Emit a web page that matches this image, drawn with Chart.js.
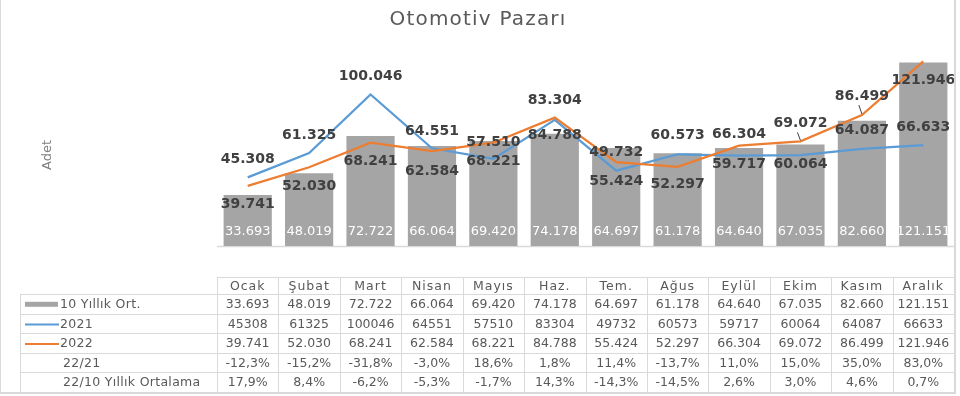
<!DOCTYPE html>
<html>
<head>
<meta charset="utf-8">
<script src="https://cdn.jsdelivr.net/npm/chart.js@4"></script>
<style>
  body { margin: 0; background: #fff; }
  canvas { display: block; }
</style>
</head>
<body>
<canvas id="c" width="960" height="396"></canvas>
<script>
// --- VERİ ---
const months = ['Ocak', 'Şubat', 'Mart', 'Nisan', 'Mayıs', 'Haz.', 'Tem.', 'Ağus', 'Eylül', 'Ekim', 'Kasım', 'Aralık'];
const avg10 = [33693, 48019, 72722, 66064, 69420, 74178, 64697, 61178, 64640, 67035, 82660, 121151];
const y2021 = [45308, 61325, 100046, 64551, 57510, 83304, 49732, 60573, 59717, 60064, 64087, 66633];
const y2022 = [39741, 52030, 68241, 62584, 68221, 84788, 55424, 52297, 66304, 69072, 86499, 121946];
const chg2221 = [-12.3, -15.2, -31.8, -3.0, 18.6, 1.8, 11.4, -13.7, 11.0, 15.0, 35.0, 83.0];
const chg22avg = [17.9, 8.4, -6.2, -5.3, -1.7, 14.3, -14.3, -14.5, 2.6, 3.0, 4.6, 0.7];
const yMax = 140000;

// etiket yeri: eksi = noktanın üstünde, artı = altında (px)
const lbl2021 = [-18, -18, -18, -17, -17, -19, -18, -19, 9, 9, -19, -18];
const lbl2022 = [19, 19, 19, 20, 19, 18, 19, 18, -11, -18, -19, 19];
const leader2022 = [0, 0, 0, 0, 0, 0, 0, 0, 0, 1, 1, 0];

const BLUE = '#5b9bd5', ORANGE = '#ed7d31', GRAY = '#a5a5a5';
const TXT = '#595959', GRID = '#d9d9d9';
const FONT = '"DejaVu Sans", sans-serif';

const fmtDot = n => String(n).replace(/\B(?=(\d{3})+(?!\d))/g, '.');
const fmtPct = v => v.toFixed(1).replace('.', ',') + '%';

// --- ÇİZİM EKLENTİSİ ---
const drawExtras = {
  id: 'drawExtras',
  beforeDatasetsDraw(chart) {
    const { ctx, chartArea: ca } = chart;
    ctx.save();
    ctx.strokeStyle = GRID;
    ctx.lineWidth = 1.5;
    ctx.beginPath();
    ctx.moveTo(ca.left, ca.bottom + 0.5);
    ctx.lineTo(ca.right, ca.bottom + 0.5);
    ctx.stroke();
    ctx.restore();
  },
  afterDatasetsDraw(chart) {
    const { ctx, chartArea: ca } = chart;
    ctx.save();
    ctx.textAlign = 'center';
    ctx.textBaseline = 'middle';

    // bar etiketleri (beyaz, altta)
    ctx.fillStyle = '#ffffff';
    ctx.font = '13px ' + FONT;
    chart.getDatasetMeta(0).data.forEach((b, i) => {
      ctx.fillText(fmtDot(avg10[i]), b.x, ca.bottom - 14);
    });

    // çizgi etiketleri
    ctx.font = 'bold 14px ' + FONT;
    ctx.fillStyle = '#404040';
    const m21 = chart.getDatasetMeta(1).data;
    const m22 = chart.getDatasetMeta(2).data;
    m21.forEach((p, i) => ctx.fillText(fmtDot(y2021[i]), p.x, p.y + lbl2021[i]));
    m22.forEach((p, i) => {
      const ly = p.y + lbl2022[i];
      ctx.fillText(fmtDot(y2022[i]), p.x, ly);
      if (leader2022[i]) {
        ctx.strokeStyle = '#404040';
        ctx.lineWidth = 1;
        ctx.beginPath();
        ctx.moveTo(p.x - 3, ly + 9);
        ctx.lineTo(p.x, p.y - 1);
        ctx.stroke();
      }
    });
    ctx.restore();
  },
  afterDraw(chart) {
    const { ctx, chartArea: ca } = chart;
    ctx.save();

    // başlık
    ctx.fillStyle = TXT;
    ctx.font = '20px ' + FONT;
    ctx.textAlign = 'center';
    ctx.textBaseline = 'middle';
    ctx.letterSpacing = '1.2px';
    ctx.fillText('Otomotiv Pazarı', 478, 20);
    ctx.letterSpacing = '0px';

    // eksen başlığı
    ctx.save();
    ctx.translate(48, 155);
    ctx.rotate(-Math.PI / 2);
    ctx.fillStyle = '#808080';
    ctx.font = '13px ' + FONT;
    ctx.fillText('Adet', 0, 0);
    ctx.restore();

    // veri tablosu
    const colW = (ca.right - ca.left) / months.length;
    const tLeft = 20, tTop = 277, hdrH = 17, rowH = 19.6;
    const rows = [
      { name: '10 Yıllık Ort.', key: 'bar', vals: avg10.map(fmtDot) },
      { name: '2021', key: BLUE, vals: y2021.map(String) },
      { name: '2022', key: ORANGE, vals: y2022.map(fmtDot) },
      { name: '22/21', vals: chg2221.map(fmtPct) },
      { name: '22/10 Yıllık Ortalama', vals: chg22avg.map(fmtPct) }
    ];
    const dTop = tTop + hdrH;
    const tBottom = dTop + rows.length * rowH;

    ctx.strokeStyle = GRID;
    ctx.lineWidth = 1;
    ctx.beginPath();
    ctx.moveTo(ca.left, tTop + 0.5); ctx.lineTo(ca.right, tTop + 0.5);
    for (let r = 0; r <= rows.length; r++) {
      const y = Math.round(dTop + r * rowH) + 0.5;
      ctx.moveTo(tLeft, y); ctx.lineTo(ca.right, y);
    }
    ctx.moveTo(tLeft + 0.5, dTop); ctx.lineTo(tLeft + 0.5, tBottom);
    for (let j = 0; j <= months.length; j++) {
      const x = Math.round(ca.left + j * colW) + 0.5;
      ctx.moveTo(x, tTop); ctx.lineTo(x, tBottom);
    }
    ctx.stroke();

    ctx.fillStyle = TXT;
    ctx.font = '12.5px ' + FONT;
    ctx.textAlign = 'center';
    ctx.letterSpacing = '1px';
    months.forEach((m, j) => ctx.fillText(m, ca.left + (j + 0.5) * colW, tTop + hdrH / 2 + 1));
    ctx.letterSpacing = '0px';

    rows.forEach((row, r) => {
      const cy = dTop + (r + 0.5) * rowH + 1;
      row.vals.forEach((v, j) => {
        ctx.fillStyle = TXT;
        ctx.textAlign = 'center';
        ctx.fillText(v, ca.left + (j + 0.5) * colW, cy);
      });
      let tx = 63;
      if (row.key === 'bar') {
        ctx.fillStyle = GRAY;
        ctx.fillRect(25, cy - 3, 33, 5);
        tx = 60;
      } else if (row.key) {
        ctx.strokeStyle = row.key;
        ctx.lineWidth = 2;
        ctx.beginPath();
        ctx.moveTo(25, cy); ctx.lineTo(59, cy);
        ctx.stroke();
        tx = 60;
      }
      ctx.fillStyle = TXT;
      ctx.textAlign = 'left';
      ctx.letterSpacing = '0.3px';
      ctx.fillText(row.name, tx, cy);
      ctx.letterSpacing = '0px';
    });

    // çerçeve
    ctx.strokeStyle = GRID;
    ctx.lineWidth = 2;
    ctx.beginPath();
    ctx.moveTo(955, 0); ctx.lineTo(955, 393); ctx.lineTo(0, 393);
    ctx.stroke();
    ctx.lineWidth = 1;
    ctx.beginPath();
    ctx.moveTo(0.5, 0); ctx.lineTo(0.5, 393);
    ctx.stroke();

    ctx.restore();
  }
};

new Chart(document.getElementById('c'), {
  data: {
    labels: months,
    datasets: [
      { type: 'bar', label: '10 Yıllık Ort.', data: avg10, backgroundColor: GRAY,
        barPercentage: 0.785, categoryPercentage: 1, order: 3 },
      { type: 'line', label: '2021', data: y2021, borderColor: BLUE, borderWidth: 2.25,
        pointRadius: 0, tension: 0, order: 2 },
      { type: 'line', label: '2022', data: y2022, borderColor: ORANGE, borderWidth: 2.25,
        pointRadius: 0, tension: 0, order: 1 }
    ]
  },
  options: {
    responsive: false,
    devicePixelRatio: 1,
    animation: false,
    layout: { padding: { left: 217, right: 6, top: 34, bottom: 150 } },
    plugins: { legend: { display: false }, tooltip: { enabled: false } },
    scales: {
      x: { display: false, offset: true },
      y: { display: false, min: 0, max: yMax }
    }
  },
  plugins: [drawExtras]
});
</script>
</body>
</html>
